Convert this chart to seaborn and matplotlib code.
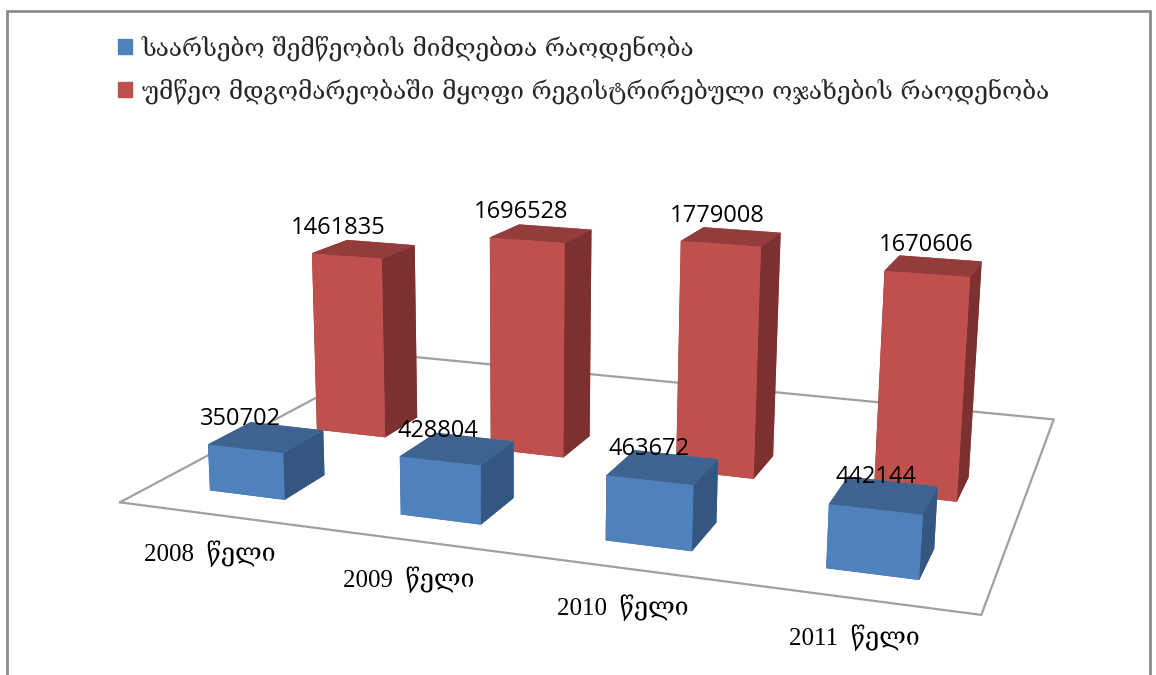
import matplotlib
matplotlib.use('Agg')
import matplotlib.pyplot as plt
import seaborn as sns
import numpy as np
from matplotlib.patches import Patch, Rectangle
from mpl_toolkits.mplot3d import proj3d

years = ['2008  წელი', '2009  წელი', '2010  წელი', '2011  წელი']
assistance = [350702, 428804, 463672, 442144]
registered = [1461835, 1696528, 1779008, 1670606]
series_names = ['საარსებო შემწეობის მიმღებთა რაოდენობა',
                'უმწეო მდგომარეობაში მყოფი რეგისტრირებული ოჯახების რაოდენობა']

# front, top, side
blue = ['#4F81BD', '#3E6390', '#335780']
red = ['#C0504D', '#923D3B', '#7C302F']

sns.set_theme(style='white')
plt.rcParams['font.family'] = ['Open Sans', 'DejaVu Sans']

W, H = 1156, 675
fig = plt.figure(figsize=(W / 100, H / 100), dpi=100)
fig.patch.set_facecolor('white')
fig.add_artist(Rectangle((6.5 / W, -0.05), 1143 / W, 1.05 - 10.5 / H, transform=fig.transFigure,
                         fill=False, ec='#8c8c8c', lw=2))

S = 995
ax = fig.add_axes([117 / W, -175 / H, S / W, S / H], projection='3d', computed_zorder=False)
ax.patch.set_alpha(0)
ax.view_init(elev=13.7, azim=-72, roll=-0.8)
ax.set_proj_type('persp', focal_length=0.34)
ax.set_box_aspect((1.516, 1.14, 0.472))

xlim = (-0.5, 3.5)
ylim = (-0.46, 2.3)
ax.set_xlim(*xlim)
ax.set_ylim(*ylim)
ax.set_zlim(0, 1900000)
ax.set_xticks([])
ax.set_yticks([])
ax.set_zticks([])
ax.set_axis_off()

# floor outline
fx = [xlim[0], xlim[1], xlim[1], xlim[0], xlim[0]]
fy = [ylim[0], ylim[0], ylim[1], ylim[1], ylim[0]]
ax.plot(fx, fy, [0] * 5, color='#a0a0a0', lw=1.6, zorder=1)

bw = 0.40
bd = 0.37
idx = np.arange(len(years))
xs = np.concatenate([idx, idx]) - bw / 2
ys = np.concatenate([np.zeros(4), np.ones(4)]) - bd / 2
hs = np.array(assistance + registered)


def faces(c):
    # -z, +z, -y, +y, -x, +x
    return [c[1], c[1], c[0], c[0], c[2], c[2]]


cols = faces(blue) * 4 + faces(red) * 4
ax.bar3d(xs, ys, np.zeros(8), bw, bd, hs, color=cols, shade=False, zorder=2, edgecolor='none')


def to2d(x, y, z):
    ax.apply_aspect()
    px, py, _ = proj3d.proj_transform(x, y, z, ax.get_proj())
    return px, py


PT = 72 / 100  # px -> points
for i in range(8):
    px, py = to2d(xs[i] + bw / 2, ys[i] + bd / 2, hs[i])
    dx = -26 + (i % 4) * 6
    dy = 6 if i < 4 else 9
    ax.annotate(str(hs[i]), (px, py), xytext=(dx * PT, dy * PT), textcoords='offset points',
                ha='center', va='bottom', fontsize=17, color='black', zorder=5,
                annotation_clip=False)

for i, y in enumerate(years):
    px, py = to2d(i, ylim[0], 0)
    ax.annotate(y, (px, py), xytext=(-4 * PT, -39 * PT), textcoords='offset points',
                ha='center', va='center', fontsize=18, color='black', zorder=5,
                family=['Liberation Serif', 'DejaVu Serif', 'DejaVu Sans'], annotation_clip=False)

handles = [Patch(color=blue[0]), Patch(color=red[0])]
fig.legend(handles, series_names, loc='upper left', bbox_to_anchor=(96 / W, 1 - 13 / H),
           frameon=False, handlelength=0.57, handleheight=0.57, handletextpad=0.4,
           labelspacing=0.71, prop={'family': ['DejaVu Serif', 'DejaVu Sans'], 'size': 17.6})

plt.savefig('out.png', dpi=100)
plt.close()
